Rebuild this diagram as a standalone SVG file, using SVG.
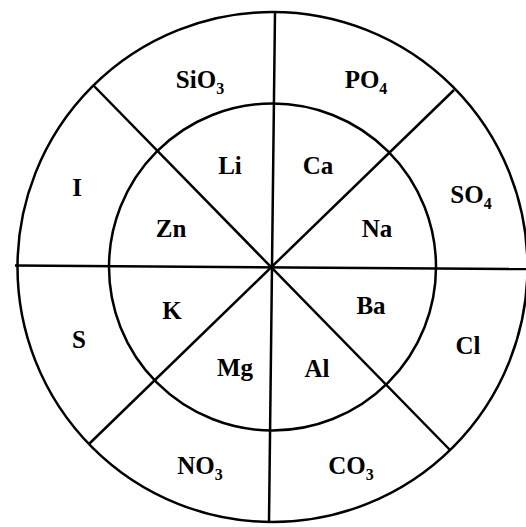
<svg xmlns="http://www.w3.org/2000/svg" width="526" height="527" viewBox="0 0 526 527">
<style>
.c{fill:none;stroke:#000;stroke-width:2.5}
.l{stroke:#000;stroke-width:2.5}
text{font-family:"Liberation Serif","Times New Roman",serif;font-weight:bold;font-size:25px;fill:#000;text-anchor:middle}
.s{font-size:16px}
</style>
<rect width="526" height="527" fill="#fff"/>
<g id="rings">
<circle class="c" cx="272.5" cy="267" r="255"/>
<circle class="c" cx="272.5" cy="267" r="163.5"/>
</g>
<g id="connectors">
<line class="l" x1="275" y1="12" x2="269" y2="521"/>
<line class="l" x1="15" y1="265.5" x2="526" y2="269"/>
<line class="l" x1="94" y1="86" x2="450" y2="450"/>
<line class="l" x1="454" y1="90" x2="89" y2="444"/>
</g>
<g id="n-SiO3"><text x="200" y="88">SiO<tspan class="s" dy="6">3</tspan></text></g>
<g id="n-PO4"><text x="366" y="88">PO<tspan class="s" dy="6">4</tspan></text></g>
<g id="n-Li"><text x="230" y="174">Li</text></g>
<g id="n-Ca"><text x="318" y="174">Ca</text></g>
<g id="n-I"><text x="77" y="196">I</text></g>
<g id="n-SO4"><text x="471" y="203">SO<tspan class="s" dy="6">4</tspan></text></g>
<g id="n-Zn"><text x="171" y="237">Zn</text></g>
<g id="n-Na"><text x="377" y="237">Na</text></g>
<g id="n-K"><text x="172" y="319">K</text></g>
<g id="n-Ba"><text x="371" y="314">Ba</text></g>
<g id="n-S"><text x="79" y="348">S</text></g>
<g id="n-Cl"><text x="468" y="354">Cl</text></g>
<g id="n-Mg"><text x="235" y="376">Mg</text></g>
<g id="n-Al"><text x="317" y="377">Al</text></g>
<g id="n-NO3"><text x="200" y="474">NO<tspan class="s" dy="6">3</tspan></text></g>
<g id="n-CO3"><text x="351" y="474">CO<tspan class="s" dy="6">3</tspan></text></g>
</svg>
